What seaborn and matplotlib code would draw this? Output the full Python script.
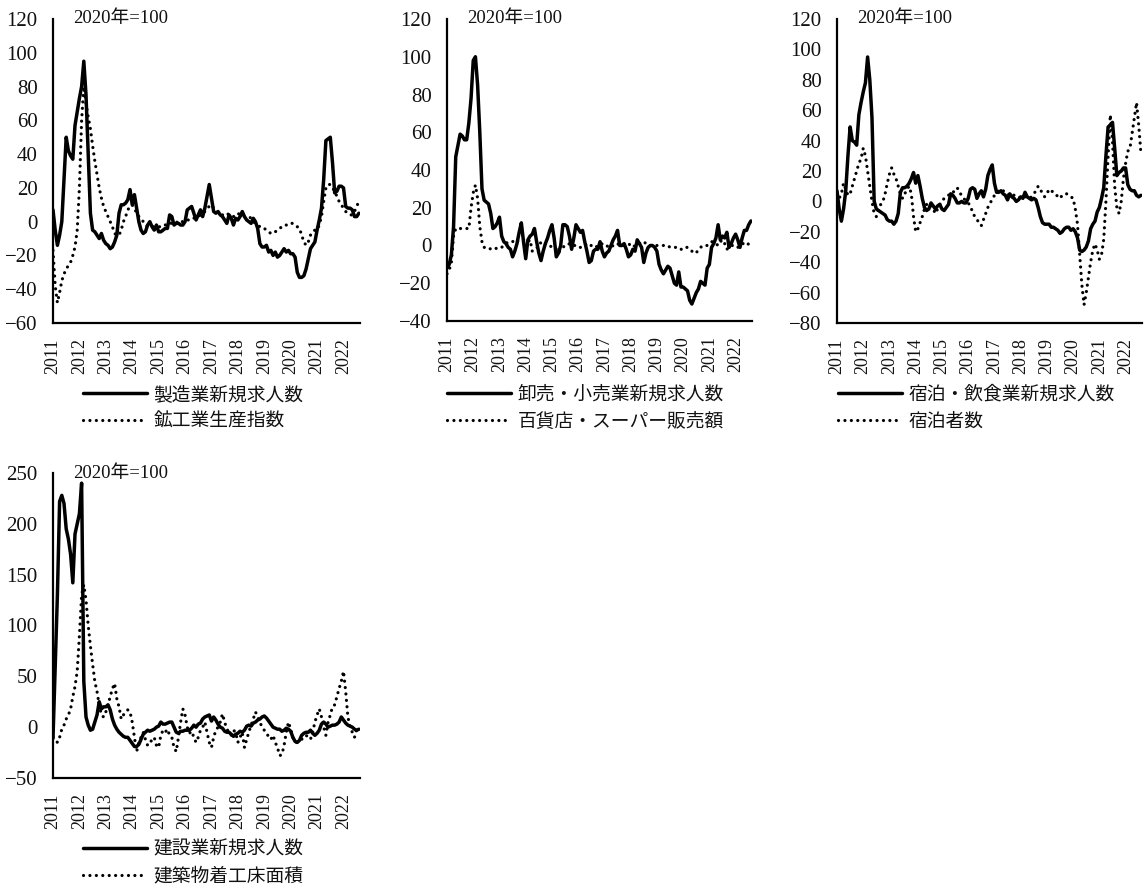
import numpy as np
import pandas as pd
import matplotlib
matplotlib.use("Agg")
import matplotlib.pyplot as plt
import seaborn as sns

# ---- data: year-on-year change, monthly from 2011-01 (140 months) ----
years = [str(y) for y in range(2011, 2023)]
base_label = "2020年=100"

mfg_jobs = [7, -5, -14, -8, 0, 25, 50, 42, 39, 37,
            57, 65, 73, 80, 95, 75, 40, 5, -5, -6,
            -8, -10, -7, -11, -13, -14, -16, -15, -12, -8,
            5, 10, 10, 11, 13, 19, 10, 16, 8, 0,
            -5, -7, -6, -2, 0, -3, -5, -2, -6, -6,
            -5, -4, -4, 4, 3, -2, -1, -1, -2, -2,
            0, 7, 8, 9, 5, 1, 4, 7, 3, 8,
            15, 22, 14, 6, 5, 6, 4, 3, 1, -1,
            4, 2, -2, 2, 1, 3, 6, 3, 1, 0,
            -1, 2, 0, -4, -13, -15, -15, -14, -18, -17,
            -20, -18, -21, -20, -18, -16, -18, -17, -19, -19,
            -21, -30, -33, -33, -32, -28, -22, -16, -14, -12,
            -5, 1, 8, 25, 48, 49, 50, 35, 17, 18,
            21, 21, 20, 9, 8, 8, 7, 3, 3, 5]

ip_index = [-17, -38, -48, -42, -35, -31, -28, -26, -24, -20,
            -15, -5, 20, 60, 80, 70, 62, 55, 45, 36,
            28, 20, 14, 9, 6, 3, 0, -3, -7, -8,
            -8, -5, 0, 3, 7, 9, 10, 8, 5, 3,
            2, 0, -2, -3, -3, -3, -3, -3, -3, -3,
            -3, -2, -1, -1, -1, 0, 0, -1, 0, 0,
            0, 1, 1, 2, 2, 3, 3, 4, 5, 6,
            8, 9, 10, 8, 6, 5, 5, 4, 4, 5,
            4, 4, 3, 4, 5, 4, 4, 3, 3, 3,
            2, 0, -1, -2, -3, -4, -4, -5, -6, -7,
            -7, -6, -5, -4, -3, -3, -2, -2, -1, -1,
            -2, -3, -4, -8, -12, -14, -12, -8, -6, -5,
            -5, -2, 3, 12, 20, 22, 22, 20, 18, 15,
            12, 10, 8, 6, 5, 4, 4, 6, 9, 12]

retail_jobs = [-12, -10, -5, 10, 47, 53, 59, 58, 56, 56,
               65, 78, 98, 100, 85, 60, 30, 24, 23, 22,
               17, 9, 10, 12, 15, 5, 2, 1, -1, -2,
               -6, -3, 1, 7, 12, 2, -7, 3, 5, 6,
               9, 2, -4, -8, -3, 1, 4, 8, 11, 4,
               -6, -4, 0, 11, 11, 10, 5, -2, 4, 11,
               9, 7, 8, 2, -3, -9, -8, -3, -2, -2,
               2, -3, -6, -4, -3, 0, 3, 5, 8, 0,
               0, 1, -2, -6, -5, -2, -3, 3, 1, -1,
               -9, -4, -1, 0, 0, -1, -3, -10, -13, -15,
               -13, -11, -12, -16, -20, -21, -14, -22, -22, -23,
               -24, -29, -31, -28, -25, -23, -19, -20, -21, -12,
               -10, -1, 1, 4, 11, 3, 5, 4, 7, -1,
               1, 4, 6, 3, -1, 4, 8, 8, 11, 13]

store_sales = [-15, -13, -9, 5, 9, 9, 9, 9, 9, 9,
               9, 20, 28, 32, 25, 10, 2, -1, -1, -1,
               -2, -2, -2, -1, -1, -1, 0, 1, 2, 2,
               2, 3, 2, 3, 3, 3, 2, 2, 3, -3,
               -2, -1, -1, 2, 2, 1, 0, 0, -1, -2,
               -2, -4, -2, -1, 0, 0, 1, 1, 0, 0,
               0, -1, -1, 0, 1, 0, 0, -1, -1, 0,
               0, 1, 1, 0, -1, -1, 0, 1, 1, 0,
               0, 0, 1, 1, 0, -1, 0, 0, 1, 2,
               2, 1, 0, 0, 0, 0, 0, 0, 0, 0,
               0, 0, -1, -1, -1, -1, -2, -2, -2, -1,
               -1, -2, -3, -4, -4, -2, -1, 0, 0, 0,
               1, 2, 2, 1, 0, 2, 3, 1, -2, -1,
               0, 0, -1, -1, 0, 1, 1, 0, 1, 1]

hotel_jobs = [7, -5, -13, -5, 7, 30, 49, 40, 39, 37,
              57, 65, 72, 78, 95, 80, 55, 0, -5, -6,
              -7, -8, -9, -12, -13, -13, -15, -13, -8, 6,
              9, 9, 10, 12, 15, 19, 12, 17, 10, 2,
              -4, -6, -5, -1, -3, -5, -3, -2, -5, -6,
              -4, -2, 5, 4, 2, -1, -1, 0, -1, -1,
              2, 8, 9, 8, 2, 5, 7, 3, 8, 17,
              21, 24, 12, 6, 6, 7, 5, 4, 1, 5,
              3, 2, 0, 1, 3, 2, 6, 3, 2, 1,
              2, 1, -4, -10, -14, -15, -15, -15, -17, -17,
              -18, -19, -21, -20, -18, -17, -17, -19, -18, -20,
              -24, -32, -33, -32, -30, -26, -18, -15, -13, -7,
              -4, 2, 9, 30, 49, 50, 52, 35, 17, 19,
              20, 22, 22, 11, 8, 7, 7, 4, 3, 4]

guests = [5, 2, 5, 12, 8, 4, 5, 10, 15, 20,
          25, 28, 35, 30, 20, 10, 0, -8, -10, -5,
          -2, 0, 5, 12, 18, 22, 18, 15, 10, 5,
          2, 5, 8, 10, 5, -10, -20, -18, -14, -10,
          -5, -2, -1, -3, -5, -8, -5, -2, 0, 2,
          3, 4, 6, 6, 7, 9, 6, 4, 2, 0,
          -1, -3, -7, -10, -12, -14, -16, -12, -8, -4,
          -1, 1, 4, 6, 7, 8, 7, 6, 5, 4,
          5, 4, 4, 3, 2, 2, 3, 3, 2, 3,
          5, 7, 10, 8, 5, 3, 5, 8, 7, 6,
          5, 3, 2, 4, 5, 5, 4, 3, 2, -5,
          -15, -35, -55, -68, -60, -50, -40, -32, -28, -32,
          -38, -35, -25, 0, 30, 57, 40, 10, -4, -8,
          0, 15, 25, 33, 35, 45, 55, 65, 50, 32]

build_jobs = [-11, 60, 130, 222, 228, 220, 195, 185, 170, 142,
              190, 200, 210, 240, 45, 10, 2, -3, -2, 5,
              12, 25, 18, 20, 20, 22, 17, 8, 2, -2,
              -5, -7, -9, -10, -10, -13, -16, -19, -19, -17,
              -12, -7, -5, -3, -4, -3, -2, 0, 1, 5,
              3, 3, 4, 5, 5, 0, -5, -6, -4, -4,
              -3, -3, -3, -1, 2, 0, 3, 4, 8, 10,
              11, 12, 6, 10, 7, 3, 0, -1, -4, -5,
              -5, -7, -9, -7, -6, -4, -5, -3, 1, 2,
              1, 4, 5, 7, 8, 10, 11, 9, 6, 3,
              0, -1, -2, -2, -4, -3, -1, -2, -4, -10,
              -14, -15, -13, -8, -6, -5, -5, -3, -6, -8,
              -6, -3, 3, 5, 3, 0, 1, 2, 2, 3,
              5, 10, 7, 4, 2, 1, 0, -2, -3, -2]

floor_area = [-10, -12, -15, -10, -2, 2, 8, 12, 18, 30,
              40, 55, 90, 130, 140, 125, 100, 80, 62, 45,
              35, 22, 12, 10, 15, 22, 30, 38, 43, 28,
              20, 8, 12, 15, 17, 15, 5, -10, -24, -15,
              -10, -5, -12, -18, -16, -12, -10, -18, -20, -8,
              -3, -5, -2, -8, -10, -20, -24, -10, 5, 18,
              12, 0, -6, -4, -10, -15, -10, -3, 0, 5,
              -5, -15, -20, -10, -3, 0, 5, 13, 5, -2,
              -5, -8, -3, -5, -15, -10, -5, -20, -12, -5,
              2, 8, 15, 10, 5, 0, -3, -5, -10, -12,
              -8, -15, -20, -28, -27, -18, -5, 5, -2, -10,
              -15, -15, -13, -12, -10, -8, -10, -12, -5, 5,
              12, 18, 10, 0, -8, 5, 12, 20, 22, 30,
              38, 45, 55, 35, 10, 0, -5, -10, -2, -2]

months = np.arange(len(mfg_jobs))

W, H = 1145, 889
sns.set_theme(style="white")
plt.rcParams["font.family"] = ["Liberation Serif", "Noto Sans CJK JP"]
plt.rcParams["axes.unicode_minus"] = True

fig = plt.figure(figsize=(W / 100, H / 100), dpi=100, facecolor="white")

# (left, top, right, bottom) in pixels, y-range, step, series, legend anchor
panels = [
    ((53, 19, 360, 323), (-60, 120), 20,
     ("製造業新規求人数", mfg_jobs), ("鉱工業生産指数", ip_index), (83, 386)),
    ((447, 19, 752, 321), (-40, 120), 20,
     ("卸売・小売業新規求人数", retail_jobs), ("百貨店・スーパー販売額", store_sales), (447, 386)),
    ((837, 19, 1142, 323), (-80, 120), 20,
     ("宿泊・飲食業新規求人数", hotel_jobs), ("宿泊者数", guests), (838, 386)),
    ((53, 473, 360, 778), (-50, 250), 50,
     ("建設業新規求人数", build_jobs), ("建築物着工床面積", floor_area), (83, 841)),
]

dot_style = (0, (0.01, 2.0))

for (l, t, r, b), (ymin, ymax), step, solid, dotted, (lx, ly) in panels:
    ax = fig.add_axes([l / W, 1 - b / H, (r - l) / W, (b - t) / H])
    df = pd.DataFrame({"month": months, "a": solid[1], "b": dotted[1]})
    sns.lineplot(data=df, x="month", y="a", ax=ax, color="black", lw=2.5,
                 label=solid[0], solid_capstyle="round")
    sns.lineplot(data=df, x="month", y="b", ax=ax, color="black", lw=2.3,
                 linestyle=dot_style, dash_capstyle="round", label=dotted[0])

    ax.set_xlim(0, len(months) - 0.5)
    ax.set_ylim(ymin, ymax)
    ax.set_yticks(np.arange(ymin, ymax + 1, step))
    ax.set_yticks([ymax], minor=True)
    ax.set_xticks(np.arange(0, len(months), 12))
    ax.set_xticklabels(years, rotation=90)
    ax.set_xlabel("")
    ax.set_ylabel("")
    ax.tick_params(axis="y", which="major", length=0, pad=11, labelsize=15,
                   labelcolor="#111111")
    ax.tick_params(axis="y", which="minor", length=4, width=1.2,
                   direction="in", color="black")
    ax.tick_params(axis="x", length=4, width=1.2, direction="in", pad=11,
                   labelsize=13, color="black", labelcolor="#111111")
    for side in ("top", "right"):
        ax.spines[side].set_visible(False)
    for side in ("left", "bottom"):
        ax.spines[side].set_color("black")
        ax.spines[side].set_linewidth(1.6)
    ax.set_facecolor("none")

    fig.text((l + 20) / W, 1 - t / H, base_label, fontsize=13.5,
             va="center", ha="left", color="#111111")

    leg = ax.legend(loc="upper left", bbox_to_anchor=(lx / W, 1 - ly / H),
                    bbox_transform=fig.transFigure, frameon=False,
                    borderpad=0, borderaxespad=0, handlelength=3.4,
                    handletextpad=0.35, labelspacing=0.5, fontsize=13.5)
    for txt in leg.get_texts():
        txt.set_color("#111111")

fig.savefig("out.png", dpi=100, facecolor="white")
